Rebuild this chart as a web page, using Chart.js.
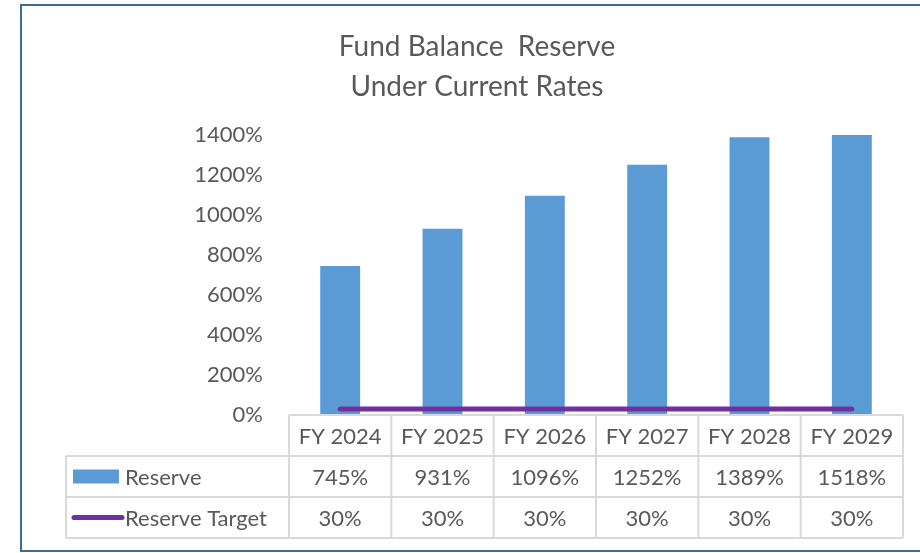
<!DOCTYPE html>
<html>
<head>
<meta charset="utf-8">
<script src="https://cdn.jsdelivr.net/npm/chart.js@4"></script>
<style>
  html, body { margin: 0; padding: 0; background: #fff; overflow: hidden; }
  body { width: 920px; height: 553px; position: relative; }
  #frame {
    position: absolute; left: 20px; top: 4px; width: 914px; height: 548px;
    box-sizing: border-box; border: 2px solid #3a6f8f; background: #fff;
  }
  #wrap { position: absolute; left: 0; top: 0; width: 910px; height: 544px; }
</style>
</head>
<body>
<div id="frame"><div id="wrap"><canvas id="chart"></canvas></div></div>
<script>
// Fund balance reserve data
const categories = ['FY 2024', 'FY 2025', 'FY 2026', 'FY 2027', 'FY 2028', 'FY 2029'];
const reserve = [745, 931, 1096, 1252, 1389, 1518];
const reserveTarget = [30, 30, 30, 30, 30, 30];
const seriesNames = ['Reserve', 'Reserve Target'];
const yMax = 1400;
const yStep = 200;

const textColor = '#595959';
const barColor = '#5b9bd5';
const lineColor = '#7030a0';
const fontFamily = 'Lato, "Open Sans", sans-serif';

// draws the Excel style data table under the plot
const dataTable = {
  id: 'dataTable',
  afterDraw(chart) {
    const ctx = chart.ctx;
    const area = chart.chartArea;
    const x = chart.scales.x;
    const colW = (area.right - area.left) / categories.length;
    const rowH = 41;
    const top = area.bottom;
    const labelLeft = 44;

    ctx.save();
    ctx.strokeStyle = '#d9d9d9';
    ctx.lineWidth = 2;
    ctx.beginPath();
    ctx.moveTo(area.left, top); ctx.lineTo(area.right, top);
    for (let r = 1; r <= 3; r++) {
      ctx.moveTo(labelLeft, top + r * rowH); ctx.lineTo(area.right, top + r * rowH);
    }
    ctx.moveTo(labelLeft, top + rowH); ctx.lineTo(labelLeft, top + 3 * rowH);
    for (let i = 0; i <= categories.length; i++) {
      const cx = area.left + i * colW;
      ctx.moveTo(cx, top); ctx.lineTo(cx, top + 3 * rowH);
    }
    ctx.stroke();

    ctx.fillStyle = textColor;
    ctx.font = '22px ' + fontFamily;
    ctx.textAlign = 'center';
    ctx.textBaseline = 'middle';
    categories.forEach((c, i) => {
      const cx = x.getPixelForValue(i);
      ctx.fillText(c, cx, top + rowH / 2 + 1);
      ctx.fillText(reserve[i] + '%', cx, top + rowH * 1.5 + 1);
      ctx.fillText(reserveTarget[i] + '%', cx, top + rowH * 2.5 + 1);
    });

    // legend keys
    ctx.fillStyle = barColor;
    ctx.fillRect(labelLeft + 7, top + rowH * 1.5 - 7, 46, 14);
    ctx.strokeStyle = lineColor;
    ctx.lineWidth = 5;
    ctx.lineCap = 'round';
    ctx.beginPath();
    ctx.moveTo(labelLeft + 8, top + rowH * 2.5);
    ctx.lineTo(labelLeft + 56, top + rowH * 2.5);
    ctx.stroke();

    ctx.fillStyle = textColor;
    ctx.textAlign = 'left';
    ctx.fillText(seriesNames[0], labelLeft + 59, top + rowH * 1.5 + 1);
    ctx.fillText(seriesNames[1], labelLeft + 59, top + rowH * 2.5 + 1);
    ctx.restore();
  }
};

new Chart(document.getElementById('chart'), {
  type: 'bar',
  data: {
    labels: categories,
    datasets: [
      {
        type: 'line',
        label: seriesNames[1],
        data: reserveTarget,
        borderColor: lineColor,
        borderWidth: 5,
        borderCapStyle: 'round',
        pointRadius: 0,
        fill: false,
        order: 0
      },
      {
        label: seriesNames[0],
        data: reserve,
        backgroundColor: barColor,
        barPercentage: 0.39,
        categoryPercentage: 1,
        order: 1
      }
    ]
  },
  options: {
    responsive: true,
    maintainAspectRatio: false,
    animation: false,
    layout: { padding: { left: 29, right: 29, top: 0, bottom: 135 } },
    plugins: {
      legend: { display: false },
      tooltip: { enabled: false },
      title: {
        display: true,
        text: ['Fund Balance  Reserve', 'Under Current Rates'],
        color: textColor,
        font: { family: fontFamily, size: 28, weight: 'normal', lineHeight: 1.43 },
        padding: { top: 21, bottom: 28 }
      }
    },
    scales: {
      x: { display: false },
      y: {
        min: 0,
        max: yMax,
        afterFit: s => { s.width = 238; },
        grid: { display: false },
        border: { display: false },
        ticks: {
          stepSize: yStep,
          padding: 18,
          color: textColor,
          font: { family: fontFamily, size: 22 },
          callback: v => v + '%'
        }
      }
    }
  },
  plugins: [dataTable]
});
</script>
</body>
</html>
